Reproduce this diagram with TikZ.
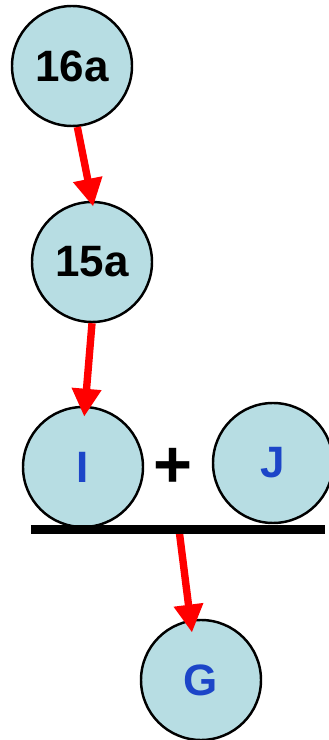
\documentclass[tikz,border=0pt]{standalone}
\usepackage{fontspec}
\setmainfont{Liberation Sans}
\usetikzlibrary{arrows.meta, positioning}
\definecolor{cellblue}{HTML}{B7DDE3}
\definecolor{lblblue}{HTML}{1C45C8}
\begin{document}
\begin{tikzpicture}[
    >=Stealth,
    mol/.style={draw, circle, fill=cellblue, line width=1.4pt, minimum size=2.4cm, inner sep=0pt, font=\fontsize{25}{25}\selectfont\bfseries},
    arr/.style={-{Triangle[length=0.56cm, width=0.56cm]}, red, line width=4.2pt},
    bar/.style={line width=5pt},
]
% fix the page to the reference size
\useasboundingbox (0,0) rectangle (6.58,14.8);
% ============================================================
% chain 16a -> 15a -> I
% ============================================================
\node[mol] (n16a) at (1.44, 13.48) {16a};
\node[mol] (n15a) at (1.84, 9.56) {15a};
\node[mol, text=lblblue] (nI) at (1.66, 5.46) {I};
\node[font=\fontsize{38}{38}\selectfont\bfseries] (plus) at (3.46, 5.44) {+};
\node[mol, text=lblblue] (nJ) at (5.46, 5.54) {J};
% --- bar under I + J ---
\coordinate (barL) at (0.62, 4.21);
\coordinate (barR) at (6.50, 4.21);
\coordinate (barM) at (3.58, 4.21);
% --- product ---
\node[mol, text=lblblue] (nG) at (4.02, 1.20) {G};
% arrows
\draw[arr, shorten >=-0.12cm] (n16a.-85) -- (n15a.90);
\draw[arr, shorten >=-0.22cm] (n15a.south) -- (nI.88);
\draw[arr, shorten >=-0.26cm] (barM) -- (nG.100);
\draw[bar] (barL) -- (barR);
\end{tikzpicture}
\end{document}
